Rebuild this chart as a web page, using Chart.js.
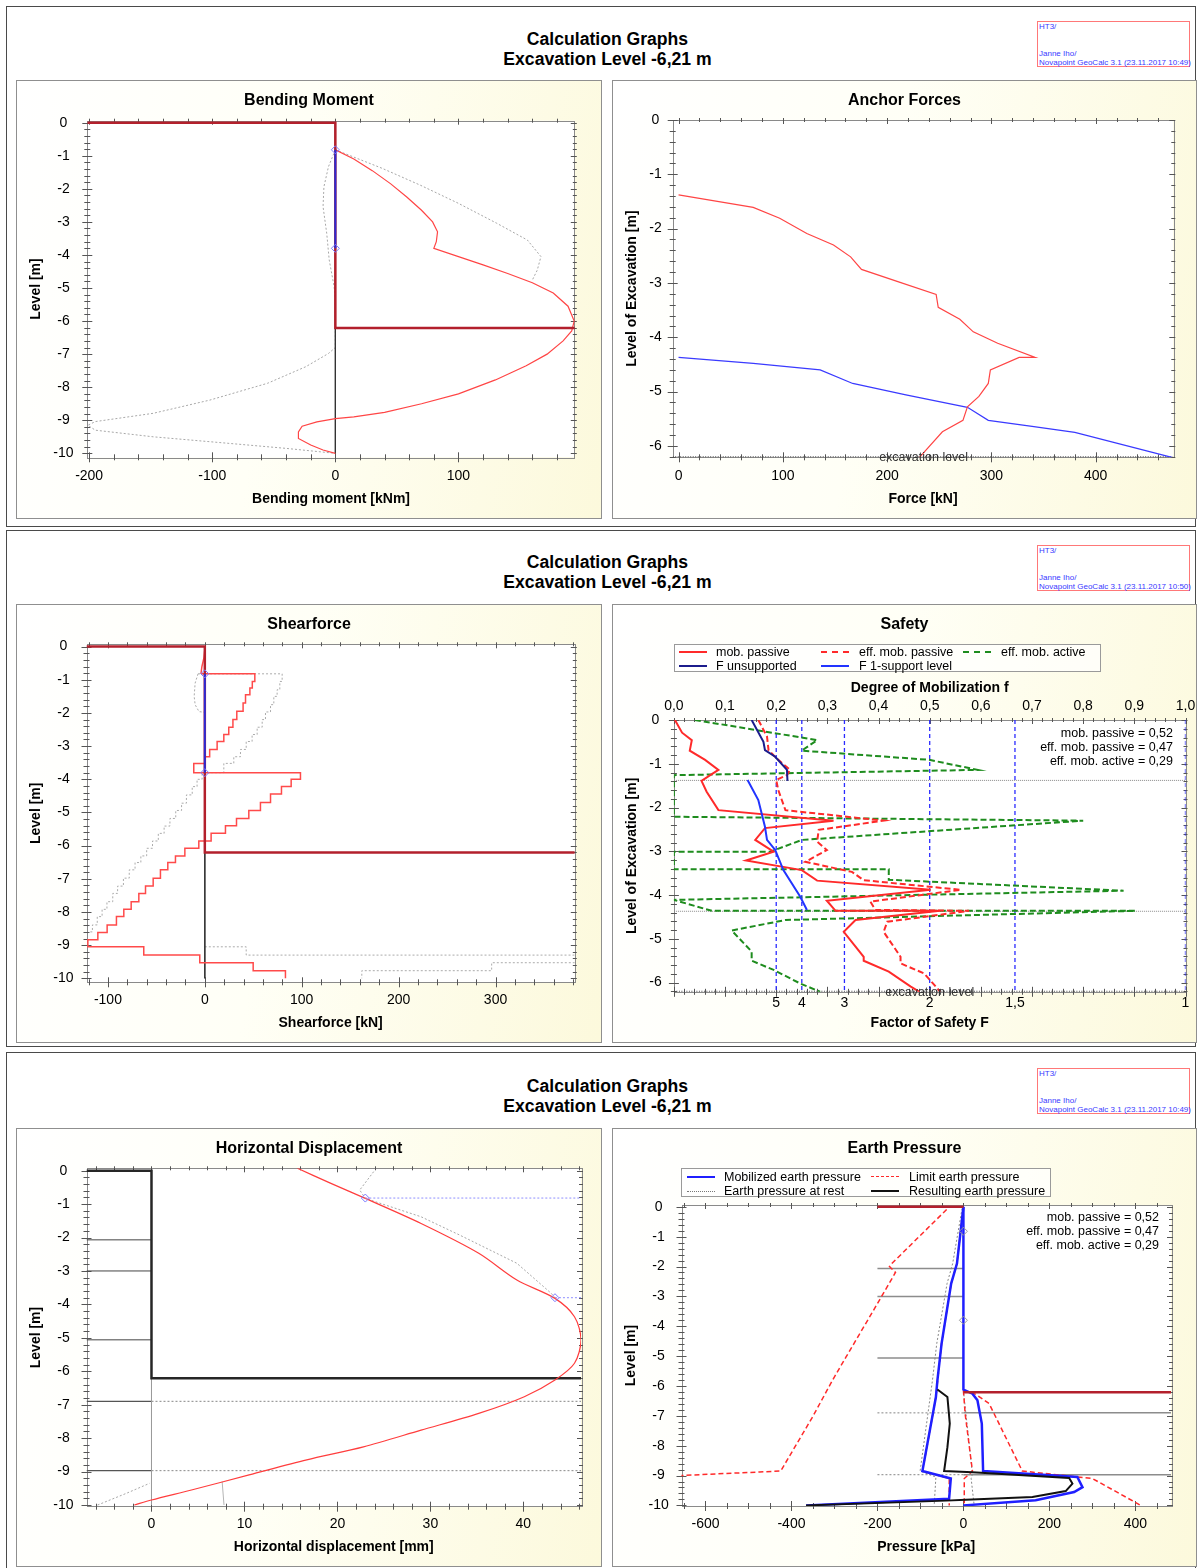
<!DOCTYPE html>
<html>
<head>
<meta charset="utf-8">
<title>Calculation Graphs</title>
<script src="https://cdn.jsdelivr.net/npm/chart.js@4.4.1/dist/chart.umd.min.js"></script>
<style>
    html, body { margin: 0; padding: 0; background: #fff; }
    body { width: 1199px; height: 1568px; position: relative; overflow: hidden; font-family: 'Liberation Sans', Arial, sans-serif; color: #000; }
    .panel { position: absolute; left: 6px; width: 1190px; border: 1px solid #4a4a4a; box-sizing: border-box; }
    .heading { position: absolute; left: 15px; width: 1185px; text-align: center; font-weight: bold; font-size: 17.6px; line-height: 20px; }
    .stamp { position: absolute; left: 1037px; width: 153px; height: 46px; border: 1px solid #ff7878; box-sizing: border-box; color: #3a3aff; font-size: 8px; line-height: 9px; padding: 0 0 0 1px; white-space: nowrap; }
    .box { position: absolute; width: 584px; height: 437px; box-shadow: 0 0 0 1px #8f8f8f; background: linear-gradient(100deg, #ffffff 0%, #fffff6 45%, #fcf9dc 100%); }
    .box.right { width: 583px; }
    .box canvas { position: absolute; left: 0; top: 0; }
    .box .title { position: absolute; left: 0; top: 9px; width: 100%; text-align: center; font-weight: bold; font-size: 16px; line-height: 20px; }
    .legend { position: absolute; border: 1px solid #9a9a9a; box-sizing: border-box; background: rgba(255,255,255,0.7); }
    .legend .sw { position: absolute; width: 28px; height: 0; }
    .legend .lt { position: absolute; font-size: 12.5px; line-height: 14px; white-space: nowrap; }
    .note { position: absolute; text-align: right; font-size: 12.5px; line-height: 14px; white-space: nowrap; }
</style>
</head>
<body>

<div class="panel" style="top:6px;height:521px"></div>
<div class="heading" style="top:29px">Calculation Graphs</div>
<div class="heading" style="top:49px">Excavation Level -6,21 m</div>
<div class="stamp" style="top:21px">HT3/<br><br><br>Janne Iho/<br>Novapoint GeoCalc 3.1 (23.11.2017 10:49)</div>
<div class="box" style="left:17px;top:81px">
    <canvas id="momentChart" width="584" height="437"></canvas>
    <div class="title">Bending Moment</div>
</div>
<div class="box right" style="left:613px;top:81px">
    <canvas id="anchorChart" width="583" height="437"></canvas>
    <div class="title">Anchor Forces</div>
</div>

<div class="panel" style="top:530px;height:517px"></div>
<div class="heading" style="top:552px">Calculation Graphs</div>
<div class="heading" style="top:572px">Excavation Level -6,21 m</div>
<div class="stamp" style="top:545px">HT3/<br><br><br>Janne Iho/<br>Novapoint GeoCalc 3.1 (23.11.2017 10:50)</div>
<div class="box" style="left:17px;top:605px">
    <canvas id="shearChart" width="584" height="437"></canvas>
    <div class="title">Shearforce</div>
</div>
<div class="box right" style="left:613px;top:605px">
    <canvas id="safetyChart" width="583" height="437"></canvas>
    <div class="title">Safety</div>
    <div class="legend" style="left:61px;top:39px;width:427px;height:28px">
        <span class="sw" style="left:4px;top:6px;border-top:2px solid #ff2a2a"></span><span class="lt" style="left:41px;top:0px">mob. passive</span>
        <span class="sw" style="left:146px;top:6px;border-top:2px dashed #ff2a2a"></span><span class="lt" style="left:184px;top:0px">eff. mob. passive</span>
        <span class="sw" style="left:288px;top:6px;border-top:2px dashed #1e8c1e"></span><span class="lt" style="left:326px;top:0px">eff. mob. active</span>
        <span class="sw" style="left:4px;top:20px;border-top:2px solid #1c1c8c"></span><span class="lt" style="left:41px;top:14px">F unsupported</span>
        <span class="sw" style="left:146px;top:20px;border-top:2px solid #2234ff"></span><span class="lt" style="left:184px;top:14px">F 1-support level</span>
    </div>
    <div class="note" id="safetyNote" style="right:23px;top:121px"></div>
</div>

<div class="panel" style="top:1052px;height:520px"></div>
<div class="heading" style="top:1076px">Calculation Graphs</div>
<div class="heading" style="top:1096px">Excavation Level -6,21 m</div>
<div class="stamp" style="top:1068px">HT3/<br><br><br>Janne Iho/<br>Novapoint GeoCalc 3.1 (23.11.2017 10:49)</div>
<div class="box" style="left:17px;top:1129px">
    <canvas id="displacementChart" width="584" height="437"></canvas>
    <div class="title">Horizontal Displacement</div>
</div>
<div class="box right" style="left:613px;top:1129px">
    <canvas id="pressureChart" width="583" height="437"></canvas>
    <div class="title">Earth Pressure</div>
    <div class="legend" style="left:68px;top:39px;width:370px;height:29px">
        <span class="sw" style="left:5px;top:7px;border-top:2.5px solid #1f1fff"></span><span class="lt" style="left:42px;top:1px">Mobilized earth pressure</span>
        <span class="sw" style="left:189px;top:7px;border-top:1.5px dashed #ff2a2a"></span><span class="lt" style="left:227px;top:1px">Limit earth pressure</span>
        <span class="sw" style="left:5px;top:22px;border-top:1px dotted #777"></span><span class="lt" style="left:42px;top:15px">Earth pressure at rest</span>
        <span class="sw" style="left:189px;top:21px;border-top:2px solid #111"></span><span class="lt" style="left:227px;top:15px">Resulting earth pressure</span>
    </div>
    <div class="note" id="pressureNote" style="right:37px;top:81px"></div>
</div>

<script>
// Geometrie der Baugrube (Höhen in m)
const excavationLevel = -6.21;
const wallToe = -10;
const anchorLevels = [-0.82, -3.8];
const anchorStartLevels = [-1.38, -4.37];
const layerLevels = [-2.07, -3.0, -5.06];
const layerLevelsLower = [-6.9, -8.97];

// Achsenbeschriftungen
const levelTicks10 = [0, -1, -2, -3, -4, -5, -6, -7, -8, -9, -10];
const levelTicks6 = [0, -1, -2, -3, -4, -5, -6];
const momentTicks = [-200, -100, 0, 100];
const forceTicks = [0, 100, 200, 300, 400];
const shearTicks = [-100, 0, 100, 200, 300];
const mobilizationTicks = [0, 0.1, 0.2, 0.3, 0.4, 0.5, 0.6, 0.7, 0.8, 0.9, 1.0];
const safetyFactors = [5, 4, 3, 2, 1.5, 1];
const displacementTicks = [0, 10, 20, 30, 40];
const pressureTicks = [-600, -400, -200, 0, 200, 400];

// Biegemoment [kNm], Paare [Wert, Höhe]
const momentCurve = [[0, -0.42], [0, -0.82], [15, -1.1], [30, -1.45], [45, -1.85], [58, -2.25], [70, -2.65], [79, -3.0], [83, -3.3], [82, -3.6], [80, -3.8],
    [100, -4.05], [120, -4.3], [140, -4.56], [160, -4.84], [177, -5.15], [189, -5.55], [194, -6.0], [192, -6.3], [185, -6.6], [172, -7.0], [155, -7.35],
    [130, -7.78], [100, -8.2], [70, -8.5], [40, -8.76], [15, -8.9], [0, -8.95], [-15, -9.05], [-27, -9.18], [-30, -9.35], [-30, -9.55], [-20, -9.75], [-10, -9.9], [0, -10]];
const momentEnvelopeRight = [[0, -0.82], [38, -1.38], [69, -1.89], [100, -2.44], [131, -3.04], [156, -3.55], [167, -4.05], [164, -4.46], [160, -4.76]];
const momentEnvelopeLeft = [[0, -0.82], [-5.6, -1.33], [-9.3, -1.94], [-10, -2.54], [-7, -3.35], [-5, -4.15], [-1, -4.96], [0, -5.36], [0, -6.8], [-5.6, -6.98],
    [-24, -7.38], [-55, -7.88], [-102, -8.39], [-148, -8.79], [-195, -9.04], [-201, -9.15], [-195, -9.3], [-148, -9.5], [-86, -9.7], [-40, -9.85], [0, -10]];

// Ankerkräfte [kN] über Aushubtiefe
const anchor1Force = [[0, -1.38], [71.6, -1.61], [97, -1.81], [123, -2.09], [148.6, -2.3], [165, -2.52], [175.4, -2.75], [211, -2.98], [247, -3.21], [249, -3.45],
    [269.7, -3.67], [282.6, -3.9], [306, -4.11], [342, -4.37], [326.6, -4.37], [299, -4.6], [297, -4.85], [288, -5.09], [277, -5.28], [272.7, -5.53], [253, -5.74], [231, -6.21]];
const anchor2Force = [[0, -4.37], [71.6, -4.48], [135.8, -4.6], [167, -4.85], [218, -5.06], [277, -5.29], [297, -5.53], [339, -5.64], [380, -5.75], [473, -6.21]];

// Querkraft [kN], Treppen [Wert, Höhe]
const shearTop = [[0, -0.1], [-1, -0.35], [-3, -0.6], [-4, -0.82]];
const shearSteps = [[-4, -0.82], [51.6, -0.82], [49, -1.05], [46.5, -1.25], [42, -1.45], [39.5, -1.7], [33, -1.95], [29, -2.2], [24.7, -2.43], [19.6, -2.65],
    [12.7, -2.86], [5, -3.1], [0, -3.32], [-11.4, -3.52], [98.7, -3.8], [89.1, -4.0], [79.1, -4.22], [67.8, -4.44], [57.4, -4.7], [45.4, -4.94], [32.7, -5.18],
    [21.3, -5.4], [6.5, -5.63], [-6.2, -5.86], [-20.6, -6.08], [-30.3, -6.31], [-38.2, -6.51], [-45.8, -6.73], [-53.3, -6.98], [-61.2, -7.22], [-68.1, -7.44],
    [-76, -7.69], [-83.6, -7.92], [-91.2, -8.14], [-100.8, -8.39], [-110.4, -8.62], [-120.7, -8.84], [-63, -9.05], [-5.2, -9.3], [49.9, -9.53], [83.2, -9.77], [83.2, -10]];
const shearEnvelopeSteps = [[-7, -0.82], [79.8, -0.82], [77.4, -1.05], [74.6, -1.3], [71.2, -1.5], [67.8, -1.75], [62.6, -1.97], [59.2, -2.2], [54, -2.43],
    [48.8, -2.65], [42.7, -2.86], [36.8, -3.1], [29.9, -3.32], [19.6, -3.52], [-2.8, -3.8], [-8, -4.0], [-13, -4.22], [-19, -4.47], [-24, -4.72], [-30, -4.94],
    [-36, -5.18], [-42, -5.41], [-48, -5.63], [-54, -5.86], [-60, -6.08], [-66, -6.31], [-72, -6.51], [-78, -6.73], [-84, -6.98], [-90, -7.22], [-95, -7.44],
    [-101, -7.69], [-106, -7.92], [-111, -8.14], [-116, -8.39], [-119, -8.6]];
const shearEnvelopeBump = [[-7, -0.82], [-10, -1.1], [-11, -1.5], [-10, -1.75], [-6, -1.96], [0, -1.98]];
const shearEnvelopeBottom1 = [[0, -9.05], [42.7, -9.05], [381.8, -9.3]];
const shearEnvelopeBottom2 = [[381.8, -9.53], [296, -9.53], [162, -9.77], [162, -10]];

// Sicherheit: Mobilisierungsgrad f über Aushubtiefe
const mobPassive = [[0.002, 0], [0.016, -0.29], [0.035, -0.46], [0.031, -0.7], [0.061, -0.91], [0.087, -1.14], [0.071, -1.26], [0.054, -1.39], [0.064, -1.64],
    [0.087, -2.06], [0.312, -2.3], [0.178, -2.47], [0.159, -2.74], [0.195, -3.01], [0.141, -3.21], [0.25, -3.43], [0.28, -3.67], [0.502, -3.88], [0.299, -4.13],
    [0.316, -4.36], [0.52, -4.36], [0.355, -4.57], [0.332, -4.84], [0.371, -5.41], [0.371, -5.5], [0.42, -5.75], [0.463, -6.09], [0.48, -6.21]];
const effMobPassive = [[0.165, 0], [0.182, -0.38], [0.185, -0.69], [0.201, -0.88], [0.227, -1.14], [0.221, -1.26], [0.2, -1.37], [0.204, -1.6], [0.218, -2.06],
    [0.41, -2.3], [0.283, -2.51], [0.28, -2.78], [0.299, -2.97], [0.257, -3.24], [0.348, -3.47], [0.371, -3.66], [0.561, -3.88], [0.384, -4.15], [0.394, -4.34],
    [0.577, -4.36], [0.417, -4.61], [0.41, -4.84], [0.443, -5.41], [0.443, -5.56], [0.489, -5.79], [0.515, -6.13], [0.52, -6.21]];
const effMobActive = [[0.041, 0], [0.28, -0.46], [0.25, -0.7], [0.499, -0.91], [0.594, -1.14], [0, -1.26], [0, -2.21], [0.8, -2.3], [0.25, -2.74], [0.188, -3.01],
    [0, -3.01], [0, -3.41], [0.42, -3.41], [0.42, -3.65], [0.879, -3.9], [0, -4.11], [0.074, -4.36], [0.902, -4.36], [0.218, -4.57], [0.113, -4.81],
    [0.152, -5.29], [0.152, -5.5], [0.195, -5.71], [0.247, -6.02], [0.286, -6.21]];
const fUnsupported = [[0.152, 0], [0.175, -0.5], [0.178, -0.69], [0.198, -0.84], [0.221, -1.14], [0.222, -1.39]];
const fOneSupport = [[0.144, -1.37], [0.165, -1.83], [0.178, -2.44], [0.182, -2.74], [0.198, -2.97], [0.214, -3.43], [0.247, -4.04], [0.26, -4.34]];
const mobilizationNames = ['mob. passive', 'eff. mob. passive', 'eff. mob. active'];
const mobilizationValues = [0.52, 0.47, 0.29];

// Horizontalverschiebung [mm]
const displacementCurve = [[15.7, 0.07], [19.3, -0.38], [23.0, -0.83], [29, -1.58], [35.2, -2.47], [39.3, -3.27], [43.4, -3.82], [45.5, -4.37], [46.2, -5.06],
    [45.5, -5.76], [43.4, -6.26], [40.1, -6.76], [35.2, -7.26], [29, -7.76], [22.8, -8.26], [16.7, -8.65], [10.5, -9.1], [4.3, -9.55], [0, -9.85], [-1.85, -10]];
const displacementEnvelope = [[23.9, -0.03], [22.4, -0.58], [23, -0.83], [29, -1.38], [33.1, -1.92], [39.3, -2.77], [43, -3.67], [43.4, -3.8]];
const displacementEnvelopeToe = [[-5.8, -10], [-2.7, -9.65], [-0.2, -9.35]];
const displacementToeLine = [[7.6, -9.3], [7.8, -10]];
const anchorDisplacements = [23.0, 43.4];

// Erddruck [kPa]
const mobilizedRight = [[0, 0], [0, -6.12], [21, -6.26], [32.6, -6.48], [42.8, -7.26], [45.8, -8.85], [265, -9.05], [277, -9.39], [257.6, -9.55], [168, -9.83], [0, -10]];
const mobilizedLeft = [[0, 0], [-15, -1.9], [-28.5, -2.57], [-50.8, -4.58], [-60.5, -5.81], [-64, -6.37], [-95.4, -8.85], [-29.3, -9.1], [-33.3, -9.78], [-366, -10]];
const limitLeft = [[-39, -0.09], [-166.5, -1.9], [-172, -2.0], [-158, -2.2], [-193, -3.07], [-273, -5.03], [-304.6, -5.81], [-351, -7.04], [-425, -8.85], [-474, -8.88], [-658, -9.0]];
const limitRight = [[0, -6.15], [28.8, -6.28], [59.8, -6.59], [137, -8.85], [300, -9.1], [412.7, -10]];
const limitRightInner = [[0, -6.15], [4, -6.93], [21, -8.85], [2, -9.1], [2, -10]];
const limitLeftInner = [[0, 0], [-15, -1.9], [-28.5, -2.57], [-50.8, -4.58], [-64, -6.37], [-95, -8.85], [-33, -9.1], [-33, -10]];
const restLeft = [[-3, -0.05], [-25, -1.9], [-38, -2.57], [-62, -4.58], [-72, -5.81], [-100.7, -8.85], [-64, -9.05], [-68, -10]];
const restRight = [[0, -6.15], [21, -8.95], [18, -9.1], [25, -10]];
const resultingPressure = [[-60.5, -6.12], [-37.2, -6.37], [-31.7, -7.26], [-37.2, -8.05], [-44.9, -8.85], [21, -8.89], [246, -9.08], [253.6, -9.27],
    [238, -9.52], [160.6, -9.72], [5.5, -9.81], [-40, -9.84], [-366, -10]];
const surfaceMarkerStart = -200;

Chart.defaults.font.family = "'Liberation Sans', Arial, sans-serif";
Chart.defaults.color = '#000';

// Rahmen mit Haupt- und Nebenstrichen, weißer Plotbereich, Text "excavation level"
function eachStep(min, max, step, fn) {
    const k0 = Math.ceil(min / step - 1e-9), k1 = Math.floor(max / step + 1e-9);
    for (let k = k0; k <= k1; k++) fn(k * step);
}
const framePlugin = {
    id: 'frame',
    beforeDraw(chart) {
        const a = chart.chartArea, ctx = chart.ctx;
        ctx.save();
        ctx.fillStyle = '#fff';
        ctx.fillRect(a.left, a.top, a.right - a.left, a.bottom - a.top);
        ctx.restore();
    },
    beforeDatasetsDraw(chart, args, opts) {
        if (!opts || !opts.xMinor) return;
        const a = chart.chartArea, ctx = chart.ctx;
        const xs = chart.scales[opts.majorX || 'x'], ys = chart.scales.y;
        const xMajor = xs.ticks.map(t => t.value), yMajor = ys.ticks.map(t => t.value);
        ctx.save();
        ctx.strokeStyle = '#8a8a8a';
        ctx.lineWidth = 1;
        ctx.strokeRect(Math.round(a.left) + 0.5, Math.round(a.top) + 0.5, Math.round(a.right - a.left), Math.round(a.bottom - a.top));
        ctx.strokeStyle = '#555';
        ctx.beginPath();
        eachStep(xs.min, xs.max, opts.xMinor, v => {
            const major = xMajor.some(m => Math.abs(m - v) < 1e-6);
            const p = Math.round(xs.getPixelForValue(v)) + 0.5;
            const len = major ? 5 : 3;
            ctx.moveTo(p, a.bottom - len); ctx.lineTo(p, a.bottom + len);
            ctx.moveTo(p, a.top - 2); ctx.lineTo(p, a.top + len - 1);
        });
        eachStep(ys.min, ys.max, opts.yMinor, v => {
            const major = yMajor.some(m => Math.abs(m - v) < 1e-6);
            const p = Math.round(ys.getPixelForValue(v)) + 0.5;
            const len = major ? 5 : 3;
            ctx.moveTo(a.left - len, p); ctx.lineTo(a.left + len, p);
            ctx.moveTo(a.right - len + 1, p); ctx.lineTo(a.right + 2, p);
        });
        ctx.stroke();
        ctx.restore();
    },
    afterDatasetsDraw(chart, args, opts) {
        if (!opts || opts.excavationX === undefined) return;
        const ctx = chart.ctx;
        ctx.save();
        ctx.font = "12.5px 'Liberation Sans', Arial, sans-serif";
        ctx.fillStyle = '#333';
        ctx.textAlign = 'center';
        ctx.textBaseline = 'alphabetic';
        ctx.fillText('excavation level', chart.scales.x.getPixelForValue(opts.excavationX), chart.scales.y.getPixelForValue(excavationLevel) + 4);
        ctx.restore();
    }
};
Chart.register(framePlugin);

const pts = arr => arr.map(p => ({ x: p[0], y: p[1] }));

// Treppenlinie: erst senkrecht, dann waagerecht
function steps(arr) {
    const out = [arr[0]];
    for (let i = 1; i < arr.length; i++) {
        out.push([arr[i - 1][0], arr[i][1]], arr[i]);
    }
    return out;
}

function line(data, color, width, dash, extra) {
    return Object.assign({
        data: pts(data), showLine: true, borderColor: color, borderWidth: width,
        borderDash: dash || [], pointRadius: 0, fill: false, tension: 0
    }, extra || {});
}

function diamonds(data, color) {
    return {
        data: pts(data), showLine: false, pointStyle: 'rectRot', pointRadius: 4,
        pointBorderColor: color, pointBackgroundColor: 'rgba(0,0,0,0)', pointBorderWidth: 1
    };
}

function fitTo(size) {
    return scale => {
        if (scale.isHorizontal()) scale.height = size; else scale.width = size;
        scale.paddingLeft = scale.paddingRight = scale.paddingTop = scale.paddingBottom = 0;
    };
}

function axis(position, min, max, ticks, o) {
    const horizontal = position === 'top' || position === 'bottom';
    return {
        type: 'linear', position: position, min: min, max: max,
        grid: { display: false, drawTicks: false },
        border: { display: false },
        afterBuildTicks: scale => { scale.ticks = ticks.map(v => ({ value: v })); },
        afterFit: fitTo(o.size),
        ticks: {
            autoSkip: false, maxRotation: 0, minRotation: 0, padding: o.pad,
            crossAlign: horizontal ? 'near' : 'center', color: '#000', font: { size: 14 },
            callback: o.fmt || (v => String(v))
        },
        title: {
            display: true, text: o.title, color: '#000', font: { size: 14, weight: 'bold' },
            padding: position === 'bottom' ? { top: 0, bottom: o.titlePad } : { top: o.titlePad, bottom: 0 }
        }
    };
}

function chartOptions(scales, padding, frame) {
    return {
        responsive: false, animation: false, events: [],
        layout: { padding: padding },
        plugins: { legend: { display: false }, tooltip: { enabled: false }, frame: frame },
        scales: scales
    };
}

const comma = n => String(n).replace('.', ',');

function renderMomentChart() {
    const xMin = -201.5, xMax = 194.5;
    const anchors = anchorLevels.map(l => [0, l]);
    new Chart(document.getElementById('momentChart'), {
        type: 'scatter',
        data: { datasets: [
            diamonds(anchors, '#7b7bff'),
            line(anchors, '#2b2bd6', 2),
            line([[xMin, 0], [0, 0], [0, excavationLevel], [xMax, excavationLevel]], '#b3202c', 2.5),
            line(momentCurve, '#ff4545', 1.2),
            line([[0, 0], [0, wallToe]], '#333', 1),
            line(momentEnvelopeRight, '#a8a8a8', 1, [2, 2]),
            line(momentEnvelopeLeft, '#a8a8a8', 1, [2, 2])
        ] },
        options: chartOptions({
            x: axis('bottom', xMin, xMax, momentTicks, { size: 60.7, pad: 10.3, title: 'Bending moment [kNm]', titlePad: 10.6 }),
            y: axis('left', -10.12, 0.06, levelTicks10, { size: 70.3, pad: 13.7, title: 'Level [m]', titlePad: 11 })
        }, { left: 0, top: 39.7, right: 26.2, bottom: 0 }, { xMinor: 20, yMinor: 0.2 })
    });
}

function renderAnchorChart() {
    const xMin = -5.6, xMax = 474.4;
    new Chart(document.getElementById('anchorChart'), {
        type: 'scatter',
        data: { datasets: [
            line(anchor1Force, '#ff4545', 1.2),
            line(anchor2Force, '#3a3aff', 1.2),
            line([[xMin, excavationLevel], [xMax, excavationLevel]], '#444', 2, [1, 1.5])
        ] },
        options: chartOptions({
            x: axis('bottom', xMin, xMax, forceTicks, { size: 60.7, pad: 10.3, title: 'Force [kN]', titlePad: 10.6 }),
            y: axis('left', excavationLevel, 0, levelTicks6, { size: 59.7, pad: 11, title: 'Level of Excavation [m]', titlePad: 11.1 })
        }, { left: 0, top: 39, right: 22.7, bottom: 0 }, { xMinor: 20, yMinor: 0.2, excavationX: 235 })
    });
}

function renderShearChart() {
    const xMin = -122.1, xMax = 381.8;
    const anchors = anchorLevels.map(l => [0, l]);
    const grey = '#ababab';
    new Chart(document.getElementById('shearChart'), {
        type: 'scatter',
        data: { datasets: [
            diamonds(anchors, '#7b7bff'),
            line(anchors, '#2b2bd6', 2),
            line([[xMin, 0], [0, 0], [0, excavationLevel], [xMax, excavationLevel]], '#b3202c', 2.5),
            line(steps(shearSteps), '#ff4a4a', 1.5),
            line(shearTop, '#ff4a4a', 1.5),
            line([[0, 0], [0, wallToe]], '#333', 1),
            line(steps(shearEnvelopeSteps), grey, 1, [2, 2]),
            line(shearEnvelopeBump, grey, 1, [2, 2]),
            line(steps(shearEnvelopeBottom1), grey, 1, [2, 2]),
            line(steps(shearEnvelopeBottom2), grey, 1, [2, 2])
        ] },
        options: chartOptions({
            x: axis('bottom', xMin, xMax, shearTicks, { size: 59.7, pad: 9.3, title: 'Shearforce [kN]', titlePad: 10.9 }),
            y: axis('left', -10.12, 0.07, levelTicks10, { size: 69.5, pad: 12.9, title: 'Level [m]', titlePad: 11 })
        }, { left: 0, top: 39.3, right: 26.2, bottom: 0 }, { xMinor: 20, yMinor: 0.2 })
    });
}

function renderSafetyChart() {
    const factorLines = safetyFactors.map(F => line([[1 / F, 0], [1 / F, excavationLevel]], '#2a2aff', 1.3, [4, 3]));
    const anchorLines = anchorStartLevels.map(l => line([[0, l], [1, l]], '#8a8a8a', 1, [1, 1]));
    new Chart(document.getElementById('safetyChart'), {
        type: 'scatter',
        data: { datasets: [
            line(fUnsupported, '#1c1c8c', 2),
            line(fOneSupport, '#2234ff', 2),
            line(mobPassive, '#ff2a2a', 2),
            line(effMobPassive, '#ff2a2a', 2, [6, 3]),
            line(effMobActive, '#1e8c1e', 2, [6, 3])
        ].concat(factorLines, anchorLines, [
            line([[0, excavationLevel], [1, excavationLevel]], '#444', 2, [1, 1.5])
        ]) },
        options: chartOptions({
            x: axis('bottom', 0, 1, safetyFactors.map(F => 1 / F), {
                size: 50.2, pad: 2.5, title: 'Factor of Safety F', titlePad: 10.9,
                fmt: (v, i) => comma(safetyFactors[i])
            }),
            xTop: axis('top', 0, 1, mobilizationTicks, {
                size: 50, pad: 5.6, title: 'Degree of Mobilization f', titlePad: 9.6,
                fmt: v => v.toFixed(1).replace('.', ',')
            }),
            y: axis('left', excavationLevel, 0, levelTicks6, { size: 60.9, pad: 12.2, title: 'Level of Excavation [m]', titlePad: 11.1 })
        }, { left: 0, top: 65, right: 10.5, bottom: 0 }, { xMinor: 0.02, yMinor: 0.2, majorX: 'xTop', excavationX: 0.5 })
    });
}

function renderDisplacementChart() {
    const xMin = -6.99, xMax = 46.2;
    const anchorPts = anchorLevels.map((l, i) => [anchorDisplacements[i], l]);
    const anchorRays = anchorLevels.map((l, i) => line([[anchorDisplacements[i], l], [xMax, l]], '#8f8fff', 1, [2, 2]));
    const layers = layerLevels.map(l => line([[xMin, l], [0, l]], '#444', 1));
    const lowerLeft = layerLevelsLower.map(l => line([[xMin, l], [0, l]], '#555', 1.2));
    const lowerRight = layerLevelsLower.map(l => line([[0, l], [xMax, l]], '#9a9a9a', 1.2, [2, 2]));
    new Chart(document.getElementById('displacementChart'), {
        type: 'scatter',
        data: { datasets: [diamonds(anchorPts, '#7b7bff')].concat(anchorRays, [
            line(displacementCurve, '#ff3d3d', 1.2, null, { tension: 0.3 }),
            line([[xMin, 0], [0, 0], [0, excavationLevel], [xMax, excavationLevel]], '#262626', 2.5),
            line([[0, excavationLevel], [0, wallToe]], '#9a9a9a', 1)
        ], layers, lowerLeft, lowerRight, [
            line(displacementEnvelope, '#a8a8a8', 1, [2, 2]),
            line(displacementEnvelopeToe, '#a8a8a8', 1, [2, 2]),
            line(displacementToeLine, '#b5b5b5', 1)
        ]) },
        options: chartOptions({
            x: axis('bottom', xMin, xMax, displacementTicks, { size: 59.3, pad: 8.9, title: 'Horizontal displacement [mm]', titlePad: 10.3 }),
            y: axis('left', -10.05, 0.07, levelTicks10, { size: 69.5, pad: 12.9, title: 'Level [m]', titlePad: 11 })
        }, { left: 0, top: 39.3, right: 20, bottom: 0 }, { xMinor: 2, yMinor: 0.2 })
    });
}

function renderPressureChart() {
    const xMin = -655.8, xMax = 482.9;
    const layers = layerLevels.map(l => line([[surfaceMarkerStart, l], [0, l]], '#8c8c8c', 1.5));
    const lowerLeft = layerLevelsLower.map(l => line([[surfaceMarkerStart, l], [0, l]], '#9a9a9a', 1.2, [2, 2]));
    const lowerRight = layerLevelsLower.map(l => line([[0, l], [xMax, l]], '#8c8c8c', 1.5));
    const red = '#ff2a2a', dash = [5, 3];
    new Chart(document.getElementById('pressureChart'), {
        type: 'scatter',
        data: { datasets: [
            diamonds(anchorLevels.map(l => [0, l]), '#9a9a9a'),
            line([[surfaceMarkerStart, 0], [0, 0]], '#b3202c', 2.5),
            line([[0, excavationLevel], [xMax, excavationLevel]], '#b3202c', 2.5),
            line(resultingPressure, '#111', 2),
            line(mobilizedRight, '#1f1fff', 2.5),
            line(mobilizedLeft, '#1f1fff', 2.5),
            line(limitLeft, red, 1.5, dash),
            line(limitRight, red, 1.5, dash),
            line(limitRightInner, red, 1.5, dash),
            line(limitLeftInner, red, 1.5, dash),
            line(restLeft, '#888', 1, [2, 2]),
            line(restRight, '#888', 1, [2, 2])
        ].concat(layers, lowerLeft, lowerRight) },
        options: chartOptions({
            x: axis('bottom', xMin, xMax, pressureTicks, { size: 60, pad: 9.6, title: 'Pressure [kPa]', titlePad: 10.9 }),
            y: axis('left', -10.02, 0.06, levelTicks10, { size: 68.5, pad: 12.8, title: 'Level [m]', titlePad: 10 })
        }, { left: 0, top: 76, right: 25, bottom: 0 }, { xMinor: 50, yMinor: 0.2 })
    });
}

// Textzeilen "mob. passive = 0,52" usw.
function fillNotes() {
    const text = mobilizationNames.map((n, i) => n + ' = ' + mobilizationValues[i].toFixed(2).replace('.', ',')).join('<br>');
    document.getElementById('safetyNote').innerHTML = text;
    document.getElementById('pressureNote').innerHTML = text;
}

renderMomentChart();
renderAnchorChart();
renderShearChart();
renderSafetyChart();
renderDisplacementChart();
renderPressureChart();
fillNotes();
</script>
</body>
</html>
